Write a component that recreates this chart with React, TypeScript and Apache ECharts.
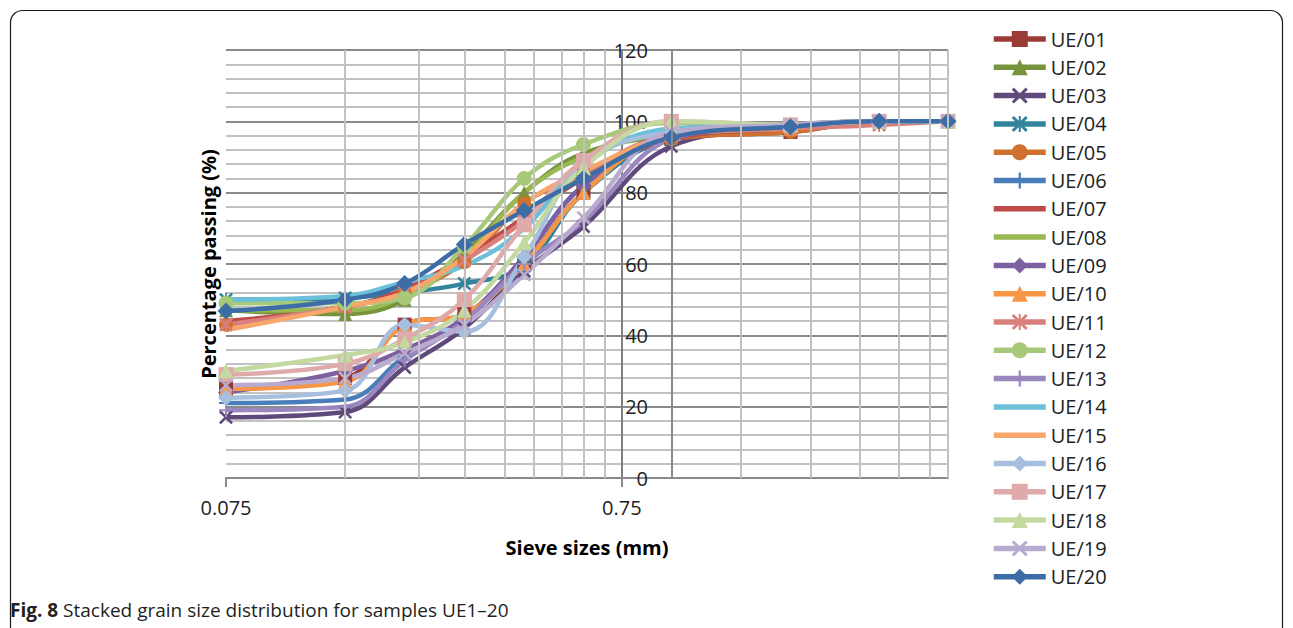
import React, { useEffect, useRef } from "react";
import * as echarts from "echarts";

// Sieve sizes (mm) – x values
const sieveSizes = [0.075, 0.15, 0.212, 0.3, 0.425, 0.6, 1.0, 2.0, 3.35, 5.0];

const sampleNames = [
  "UE/01", "UE/02", "UE/03", "UE/04", "UE/05", "UE/06", "UE/07", "UE/08", "UE/09", "UE/10",
  "UE/11", "UE/12", "UE/13", "UE/14", "UE/15", "UE/16", "UE/17", "UE/18", "UE/19", "UE/20",
];

// Percentage passing for each sample
const UE01 = [25, 28, 43, 46, 60, 80, 95, 97, 100, 100];
const UE02 = [47, 46, 50, 63, 80, 91, 96, 98, 100, 100];
const UE03 = [17, 18.5, 31, 42, 58, 70.5, 93, 98, 100, 100];
const UE04 = [50, 50.5, 52, 54.5, 59.5, 80, 95, 98, 100, 100];
const UE05 = [43, 48, 52, 60.5, 77, 85, 95, 97, 100, 100];
const UE06 = [21, 22, 34, 44, 62, 82, 95, 98, 100, 100];
const UE07 = [44, 48, 53, 62, 73, 84, 95, 98, 100, 100];
const UE08 = [47, 47, 51, 62, 80, 90, 97, 99, 100, 100];
const UE09 = [24, 30, 36, 45, 62, 82, 96, 99, 100, 100];
const UE10 = [25, 27, 43, 46, 60, 80, 96, 98, 100, 100];
const UE11 = [43, 48, 52, 61, 72, 85, 96, 98, 99, 100];
const UE12 = [49, 49, 50.5, 65, 84, 93.5, 99.5, 99, 100, 100];
const UE13 = [19, 20, 33, 44, 60, 72, 95, 99, 100, 100];
const UE14 = [50, 51, 55, 59.5, 70, 88, 98, 99, 100, 100];
const UE15 = [41.5, 48, 52, 62, 77, 86, 96, 99, 100, 100];
const UE16 = [22.5, 24.5, 43, 41, 62, 88, 97, 99, 100, 100];
const UE17 = [29, 32, 39, 50, 71, 89, 100, 99, 100, 100];
const UE18 = [30, 34.5, 38, 47, 66, 87, 100, 99, 100, 100];
const UE19 = [26, 28, 35, 43, 57, 73, 97, 99, 100, 100];
const UE20 = [46.8, 50, 54.5, 65.5, 75, 84, 95.5, 98.5, 100, 100];

const sampleValues = [
  UE01, UE02, UE03, UE04, UE05, UE06, UE07, UE08, UE09, UE10,
  UE11, UE12, UE13, UE14, UE15, UE16, UE17, UE18, UE19, UE20,
];

// Axis ticks / gridlines
const xTickLabels = [0.075, 0.75];
const xMinorGrid = [0.075, 0.15, 0.225, 0.3, 0.375, 0.45, 0.525, 0.6, 0.675, 1.5, 2.25, 3.0, 3.75, 4.5, 5.0];
const xMajorGrid = [1.0];
const xMin = 0.075;
const xMax = 5.0;
const yMin = 0;
const yMax = 120;
const yStep = 20;

const X_PATH = "path://M0,1.3L1.3,0L5,3.7L8.7,0L10,1.3L6.3,5L10,8.7L8.7,10L5,6.3L1.3,10L0,8.7L3.7,5Z";
const STAR_PATH =
  "path://M0,1.3L1.3,0L5,3.7L8.7,0L10,1.3L6.3,5L10,8.7L8.7,10L5,6.3L1.3,10L0,8.7L3.7,5Z M4.35,0H5.65V10H4.35Z";
const PLUS_PATH = "path://M4.3,0H5.7V4.3H10V5.7H5.7V10H4.3V5.7H0V4.3H4.3Z";

const seriesStyles = [
  { color: "#9B3B38", symbol: "rect", size: 14 },
  { color: "#77933C", symbol: "triangle", size: 14 },
  { color: "#5F4A7B", symbol: X_PATH, size: 14 },
  { color: "#31849B", symbol: STAR_PATH, size: 14 },
  { color: "#D0722E", symbol: "circle", size: 14 },
  { color: "#4A7EBB", symbol: PLUS_PATH, size: 14 },
  { color: "#BE4B48", symbol: "none", size: 0 },
  { color: "#98B954", symbol: "none", size: 0 },
  { color: "#7D60A0", symbol: "diamond", size: 16 },
  { color: "#F79646", symbol: "triangle", size: 14 },
  { color: "#D9807E", symbol: STAR_PATH, size: 14 },
  { color: "#A9C97A", symbol: "circle", size: 15 },
  { color: "#9A87BE", symbol: PLUS_PATH, size: 14 },
  { color: "#6CC0D8", symbol: "none", size: 0 },
  { color: "#F9A66B", symbol: "none", size: 0 },
  { color: "#A7BFDF", symbol: "diamond", size: 16 },
  { color: "#DFABAA", symbol: "rect", size: 15 },
  { color: "#C4D9A0", symbol: "triangle", size: 15 },
  { color: "#B9ABD0", symbol: X_PATH, size: 14 },
  { color: "#3C6DA6", symbol: "diamond", size: 17 },
];

const FONT = "Open Sans";

export default function App() {
  const ref = useRef<HTMLDivElement>(null);

  useEffect(() => {
    if (!ref.current) return;
    const chart = echarts.init(ref.current, null, { renderer: "svg" });

    const lineSeries = sampleNames.map((name, i) => {
      const st = seriesStyles[i];
      return {
        type: "line",
        name,
        data: sieveSizes.map((s, j) => [s, sampleValues[i][j]]),
        smooth: 0.4,
        symbol: st.symbol,
        symbolSize: st.size,
        showSymbol: st.symbol !== "none",
        lineStyle: { width: 4.5, color: st.color },
        itemStyle: { color: st.color },
        z: 3,
      };
    });

    const legendData = sampleNames.map((name, i) =>
      seriesStyles[i].symbol === "none"
        ? { name, itemStyle: { color: "rgba(0,0,0,0)", opacity: 0, borderWidth: 0 } }
        : { name }
    );

    const gridSeries = {
      type: "line",
      name: "grid",
      data: [],
      silent: true,
      z: 1,
      markLine: {
        silent: true,
        symbol: ["none", "none"],
        label: { show: false },
        emphasis: { disabled: true },
        data: [
          ...xMinorGrid.map((v) => ({ xAxis: v, lineStyle: { color: "#c2c2c2", width: 2, type: "solid" } })),
          ...xMajorGrid.map((v) => ({ xAxis: v, lineStyle: { color: "#8a8a8a", width: 2, type: "solid" } })),
        ],
      },
    };

    chart.setOption({
      animation: false,
      textStyle: { fontFamily: FONT },
      grid: { left: 226, top: 50, width: 722, height: 428, containLabel: false },
      legend: {
        data: legendData,
        orient: "vertical",
        left: 986,
        top: 24,
        itemWidth: 52,
        itemHeight: 20,
        itemGap: 8.3,
        lineStyle: { width: 5.5 },
        textStyle: { fontSize: 20, lineHeight: 20, color: "#222", fontFamily: FONT },
      },
      xAxis: {
        type: "log",
        logBase: 10,
        min: xMin,
        max: xMax,
        axisLine: { show: true, onZero: false, lineStyle: { color: "#8a8a8a", width: 2 } },
        axisTick: {
          show: true,
          customValues: xTickLabels,
          length: 9,
          lineStyle: { color: "#8a8a8a", width: 2 },
        },
        axisLabel: {
          customValues: xTickLabels,
          formatter: (v: number) => String(+Number(v).toPrecision(3)),
          fontSize: 20,
          margin: 19,
          color: "#222",
          fontFamily: FONT,
        },
        splitLine: { show: false },
        minorTick: { show: false },
        name: "Sieve sizes (mm)",
        nameLocation: "middle",
        nameGap: 59,
        nameTextStyle: { fontSize: 20, fontWeight: "bold", color: "#000", fontFamily: FONT },
      },
      yAxis: {
        type: "value",
        min: yMin,
        max: yMax,
        interval: yStep,
        position: "left",
        offset: -396,
        axisLine: { show: true, onZero: false, lineStyle: { color: "#7f7f7f", width: 2 } },
        axisTick: { show: false },
        axisLabel: {
          inside: true,
          margin: 26,
          align: "right",
          fontSize: 20,
          color: "#222",
          fontFamily: FONT,
        },
        splitLine: { show: true, lineStyle: { color: "#8a8a8a", width: 2 } },
        minorTick: { show: false, splitNumber: 5 },
        minorSplitLine: { show: true, lineStyle: { color: "#c2c2c2", width: 2 } },
        name: "Percentage passing (%)",
        nameLocation: "middle",
        nameGap: 404,
        nameTextStyle: { fontSize: 20, fontWeight: "bold", color: "#000", fontFamily: FONT },
      },
      graphic: [
        {
          type: "rect",
          silent: true,
          z: -10,
          shape: { x: 10.5, y: 10.5, width: 1272, height: 700, r: 12 },
          style: { fill: "none", stroke: "#1a1a1a", lineWidth: 1.2 },
        },
        {
          type: "text",
          left: 10,
          top: 600,
          silent: true,
          style: {
            text: "{b|Fig. 8} Stacked grain size distribution for samples UE1–20",
            fontSize: 19,
            fontFamily: FONT,
            fill: "#231f20",
            rich: { b: { fontWeight: "bold", fontSize: 19, fontFamily: FONT, fill: "#231f20" } },
          },
        },
      ],
      series: [gridSeries, ...lineSeries],
    });

    return () => chart.dispose();
  }, []);

  return (
    <div
      ref={ref}
      style={{ position: "fixed", left: 0, top: 0, width: 1293, height: 628, background: "#fff" }}
    />
  );
}
